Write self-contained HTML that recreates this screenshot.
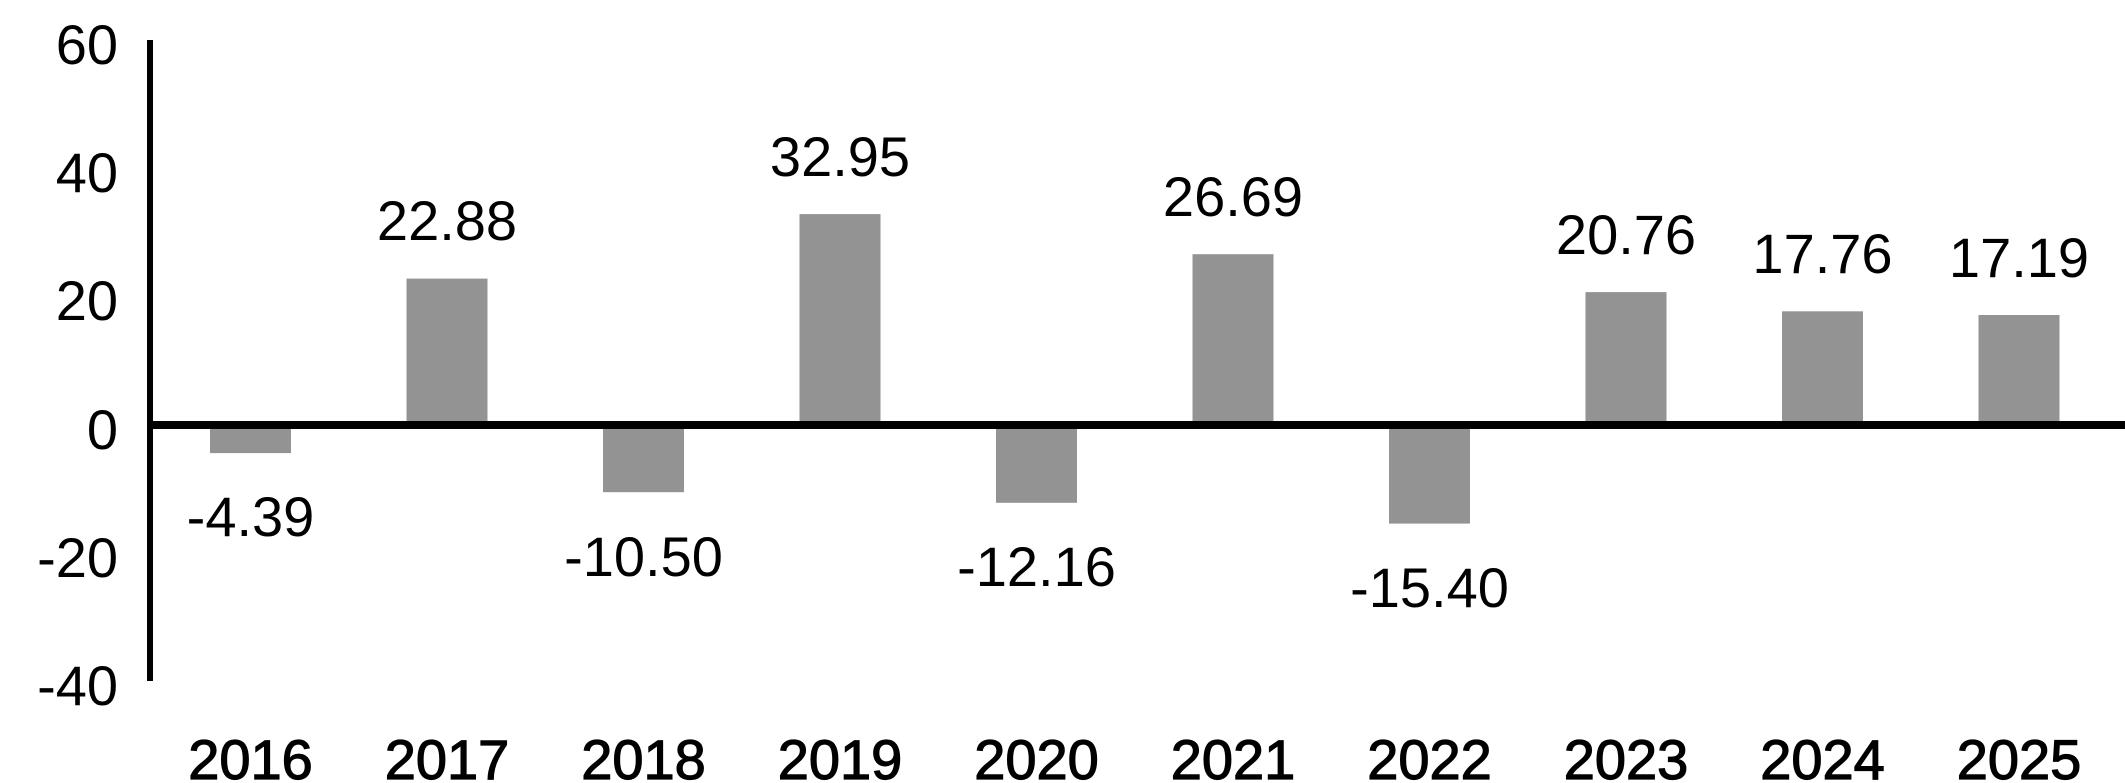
<!DOCTYPE html>
<html><head><meta charset="utf-8"><style>
html,body{margin:0;padding:0;background:#fff;}
svg{display:block;}
text{font-family:"Liberation Sans",sans-serif;font-size:56px;fill:#000;}
</style></head><body>
<svg width="2125" height="783" viewBox="0 0 2125 783" xmlns="http://www.w3.org/2000/svg">
<g text-anchor="end">
<text x="118" y="64">60</text>
<text x="118" y="192">40</text>
<text x="118" y="320">20</text>
<text x="118" y="449">0</text>
<text x="118" y="577">-20</text>
<text x="118" y="705">-40</text>
</g>
<g fill="#939393">
<rect x="210" y="425" width="81" height="28.1"/>
<rect x="406.5" y="278.6" width="81" height="146.4"/>
<rect x="603" y="425" width="81" height="67.2"/>
<rect x="799.5" y="214.1" width="81" height="210.9"/>
<rect x="996" y="425" width="81" height="77.8"/>
<rect x="1192.5" y="254.2" width="81" height="170.8"/>
<rect x="1389" y="425" width="81" height="98.6"/>
<rect x="1585.5" y="292.1" width="81" height="132.9"/>
<rect x="1782" y="311.3" width="81" height="113.7"/>
<rect x="1978.5" y="315" width="81" height="110"/>
</g>
<rect x="147" y="40" width="6" height="641" fill="#000"/>
<rect x="147" y="421" width="1978" height="8" fill="#000"/>
<g text-anchor="middle">
<text x="250.5" y="536">-4.39</text>
<text x="447" y="240">22.88</text>
<text x="643.5" y="576">-10.50</text>
<text x="840" y="176">32.95</text>
<text x="1036.5" y="586">-12.16</text>
<text x="1233" y="216">26.69</text>
<text x="1429.5" y="607">-15.40</text>
<text x="1626" y="254">20.76</text>
<text x="1822.5" y="273">17.76</text>
<text x="2019" y="277">17.19</text>
</g>
<g text-anchor="middle" stroke="#000" stroke-width="1.2">
<text x="250.5" y="779">2016</text>
<text x="447" y="779">2017</text>
<text x="643.5" y="779">2018</text>
<text x="840" y="779">2019</text>
<text x="1036.5" y="779">2020</text>
<text x="1233" y="779">2021</text>
<text x="1429.5" y="779">2022</text>
<text x="1626" y="779">2023</text>
<text x="1822.5" y="779">2024</text>
<text x="2019" y="779">2025</text>
</g>
</svg>
</body></html>
